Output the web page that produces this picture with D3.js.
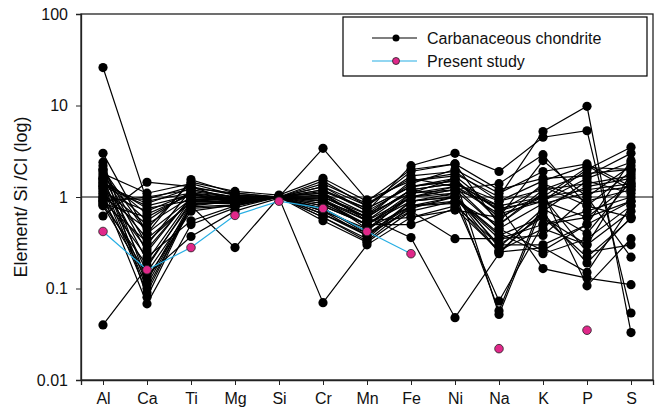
<!DOCTYPE html>
<html>
<head>
<meta charset="utf-8">
<script src="https://cdn.jsdelivr.net/npm/d3@7"></script>
<style>
  body { margin: 0; background: white; }
  text { font-family: "Liberation Sans", Arial, sans-serif; }
</style>
</head>
<body>
<svg id="chart" width="655" height="412"></svg>
<script>
// element order along the x axis
var elements = ["Al", "Ca", "Ti", "Mg", "Si", "Cr", "Mn", "Fe", "Ni", "Na", "K", "P", "S"];

var yTicks = [0.01, 0.1, 1, 10, 100];

// carbonaceous chondrite analyses, one row per sample
var chondrite = [
	[26,   0.9,  1.1,  0.95, 1.0,  1.2,  0.75, 1.3,  1.5,  0.7,  1.0,  1.2,  1.4],
	[3.0,  0.4,  1.55, 1.1,  1.0,  1.5,  0.8,  1.9,  2.3,  0.5,  1.2,  1.8,  2.0],
	[0.04, 0.17, 0.9,  0.88, 1.0,  0.9,  0.6,  1.2,  1.4,  0.9,  1.5,  2.2,  1.2],
	[0.62, 1.45, 1.3,  0.9,  1.02, 1.1,  0.55, 1.0,  1.2,  1.4,  2.9,  0.8,  0.6],
	[2.4,  0.12, 0.85, 0.85, 1.0,  0.8,  0.5,  0.9,  1.0,  0.3,  0.6,  0.3,  1.8],
	[2.2,  0.08, 0.8,  0.28, 1.0,  0.95, 0.45, 0.8,  0.9,  0.073, 0.5, 0.6,  0.9],
	[2.0,  0.3,  1.2,  1.0,  1.0,  3.4,  0.93, 1.5,  1.8,  1.0,  5.2,  9.8,  0.033],
	[1.9,  0.25, 1.0,  0.9,  0.98, 0.07, 0.3,  0.6,  0.72, 0.6,  1.0,  0.25, 0.3],
	[1.8,  1.1,  1.4,  1.05, 1.0,  1.3,  0.7,  2.2,  3.0,  1.9,  4.5,  5.3,  0.054],
	[1.7,  0.2,  0.95, 0.95, 1.0,  1.0,  0.6,  0.36, 0.048, 0.24, 0.7, 1.5,  1.1],
	[1.6,  0.65, 1.05, 0.92, 1.0,  0.75, 0.4,  0.7,  0.35, 0.35, 0.38, 1.0,  0.22],
	[1.55, 0.15, 0.75, 0.8,  1.0,  0.6,  0.35, 0.9,  1.1,  0.057, 0.9, 2.0,  3.5],
	[1.5,  0.55, 1.15, 1.0,  1.0,  1.4,  0.85, 1.6,  1.3,  0.45, 0.26, 0.5,  2.5],
	[1.45, 0.75, 0.92, 0.85, 1.0,  0.85, 0.5,  1.1,  1.6,  0.052, 0.8, 1.3,  1.6],
	[1.4,  0.1,  0.78, 0.82, 1.0,  0.7,  0.45, 1.0,  1.2,  0.8,  0.165, 0.13, 0.11],
	[1.35, 0.85, 1.25, 1.1,  1.0,  1.1,  0.65, 1.4,  2.0,  1.1,  1.9,  2.3,  1.3],
	[1.3,  0.35, 0.88, 0.9,  1.0,  0.9,  0.55, 1.2,  1.0,  0.4,  0.24, 0.35, 0.8],
	[1.25, 0.09, 0.82, 0.9,  1.0,  0.65, 0.4,  0.8,  0.85, 0.25, 0.67, 0.19, 0.6],
	[1.2,  0.5,  1.0,  0.95, 1.0,  1.2,  0.7,  1.3,  1.5,  0.6,  2.5,  1.0,  2.2],
	[1.15, 0.27, 0.98, 1.0,  1.0,  1.0,  0.6,  1.5,  1.7,  0.7,  1.3,  0.8,  1.9],
	[1.1,  0.7,  1.1,  0.85, 1.0,  0.8,  0.5,  1.0,  1.1,  0.28, 0.75, 0.4,  1.5],
	[1.05, 0.068, 0.5, 0.76, 1.0,  0.55, 0.32, 0.7,  0.9,  0.5,  1.1,  0.107, 0.35],
	[1.0,  0.45, 1.45, 1.15, 1.05, 1.6,  0.9,  2.0,  2.3,  1.2,  1.6,  1.7,  3.0],
	[0.98, 0.22, 0.55, 0.8,  1.0,  0.7,  0.38, 0.9,  1.0,  0.35, 0.5,  0.7,  1.0],
	[0.95, 0.95, 1.3,  1.05, 1.0,  1.3,  0.8,  1.7,  1.9,  0.9,  1.2,  1.4,  1.7],
	[0.92, 0.14, 0.37, 0.7,  0.97, 0.75, 0.42, 1.1,  1.3,  0.65, 0.9,  0.6,  1.4],
	[0.9,  1.0,  1.2,  1.0,  1.0,  1.05, 0.6,  1.2,  1.4,  0.8,  1.0,  2.1,  2.0],
	[0.88, 0.32, 0.9,  0.95, 1.0,  0.95, 0.55, 0.6,  0.8,  0.3,  0.3,  0.5,  0.9],
	[0.85, 0.6,  1.1,  1.0,  1.0,  1.15, 0.75, 1.3,  1.6,  0.55, 1.4,  0.9,  1.2],
	[0.82, 0.18, 0.85, 0.88, 1.0,  0.85, 0.5,  0.5,  0.75, 0.26, 0.45, 0.3,  0.7],
	[1.3,  0.8,  1.05, 0.98, 1.0,  1.0,  0.65, 1.1,  1.2,  0.45, 0.85, 1.1,  1.3],
	[1.6,  0.11, 0.8,  0.9,  1.0,  0.6,  0.33, 0.8,  1.0,  0.38, 0.6,  0.22, 0.58],
	[2.0,  0.4,  0.95, 0.92, 1.0,  0.9,  0.5,  1.0,  1.3,  0.75, 0.9,  1.6,  2.4],
	[0.8,  0.13, 0.7,  0.82, 1.0,  0.65, 0.38, 0.75, 1.0,  0.25, 0.28, 0.15, 0.8]
];

// present study (null = not measured / not joined)
var presentStudy = [0.42, 0.16, 0.28, 0.63, 0.9, 0.75, 0.42, 0.24, null, 0.022, null, 0.035, null];

var svg = d3.select("#chart");

var plotLeft = 81, plotRight = 653, plotTop = 14, plotBottom = 380;

var x = d3.scalePoint()
	.domain(elements)
	.range([plotLeft, plotRight])
	.padding(0.5);

var y = d3.scaleLog()
	.domain([0.01, 100])
	.range([plotBottom, plotTop]);

// frame
svg.append("rect")
	.attr("x", plotLeft)
	.attr("y", plotTop)
	.attr("width", plotRight - plotLeft)
	.attr("height", plotBottom - plotTop)
	.attr("fill", "none")
	.attr("stroke", "#222")
	.attr("stroke-width", 1.3);

// reference line at 1
svg.append("line")
	.attr("x1", plotLeft).attr("x2", plotRight)
	.attr("y1", y(1)).attr("y2", y(1))
	.attr("stroke", "black")
	.attr("stroke-width", 1);

svg.append("g")
	.attr("transform", "translate(" + plotLeft + ",0)")
	.call(d3.axisLeft(y).tickValues(yTicks).tickSize(5).tickPadding(8)
		.tickFormat(function (d) { return d >= 1 ? d3.format("d")(d) : String(d); }));
svg.append("g")
	.attr("transform", "translate(0," + plotBottom + ")")
	.call(d3.axisBottom(x).tickSize(5).tickPadding(8));

svg.selectAll(".domain").attr("stroke", "#222").attr("stroke-width", 1.3);
svg.selectAll(".tick line").attr("stroke", "#222");
svg.selectAll(".tick text")
	.style("font-size", "16px")
	.attr("fill", "#111");

svg.append("text")
	.attr("transform", "translate(27,197) rotate(-90)")
	.attr("text-anchor", "middle")
	.style("font-size", "18px")
	.attr("fill", "#111")
	.text("Element/ Si /CI (log)");

var line = d3.line()
	.defined(function (d) { return d != null; })
	.x(function (d, i) { return x(elements[i]); })
	.y(function (d) { return y(d); });

// chondrite lines
svg.selectAll(".cc-line")
	.data(chondrite)
	.enter().append("path")
	.attr("class", "cc-line")
	.attr("d", line)
	.attr("fill", "none")
	.attr("stroke", "black")
	.attr("stroke-width", 1.2);

// chondrite points
chondrite.forEach(function (row) {
	svg.append("g")
		.selectAll("circle")
		.data(row)
		.enter().append("circle")
		.attr("cx", function (d, i) { return x(elements[i]); })
		.attr("cy", function (d) { return y(d); })
		.attr("r", 4.6)
		.attr("fill", "black");
});

// present study
svg.append("path")
	.datum(presentStudy)
	.attr("d", line)
	.attr("fill", "none")
	.attr("stroke", "#27aee3")
	.attr("stroke-width", 1.2);

svg.append("g")
	.selectAll("circle")
	.data(presentStudy.map(function (v, i) { return { el: elements[i], v: v }; })
		.filter(function (d) { return d.v != null; }))
	.enter().append("circle")
	.attr("cx", function (d) { return x(d.el); })
	.attr("cy", function (d) { return y(d.v); })
	.attr("r", 4.3)
	.attr("fill", "#e0288a")
	.attr("stroke", "#222")
	.attr("stroke-width", 0.8);

// legend
var legend = svg.append("g");
legend.append("rect")
	.attr("x", 343).attr("y", 17)
	.attr("width", 304).attr("height", 59)
	.attr("fill", "white")
	.attr("stroke", "black")
	.attr("stroke-width", 1.2);

var legendItems = [
	{ label: "Carbanaceous chondrite", stroke: "black", fill: "black", outline: "none", y: 38 },
	{ label: "Present study", stroke: "#27aee3", fill: "#e0288a", outline: "#222", y: 61 }
];

legendItems.forEach(function (d) {
	legend.append("line")
		.attr("x1", 372).attr("x2", 417)
		.attr("y1", d.y).attr("y2", d.y)
		.attr("stroke", d.stroke)
		.attr("stroke-width", 1.2);
	legend.append("circle")
		.attr("cx", 396).attr("cy", d.y)
		.attr("r", 3.5)
		.attr("fill", d.fill)
		.attr("stroke", d.outline)
		.attr("stroke-width", 0.8);
	legend.append("text")
		.attr("x", 427).attr("y", d.y + 5.5)
		.style("font-size", "16px")
		.attr("fill", "#111")
		.text(d.label);
});
</script>
</body>
</html>
